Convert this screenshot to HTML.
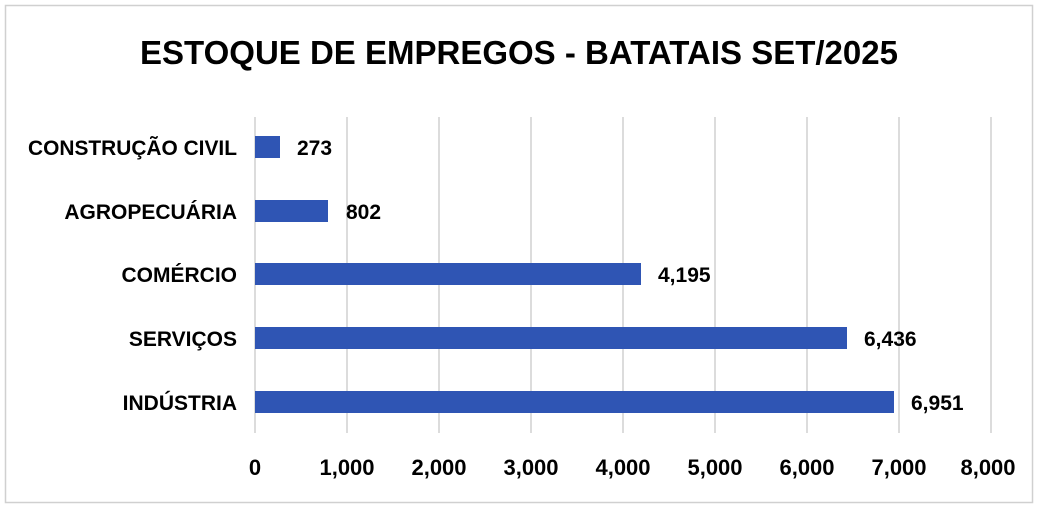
<!DOCTYPE html>
<html><head><style>
body{margin:0;width:1039px;height:508px;background:#fff;overflow:hidden;font-family:"Liberation Sans",sans-serif}
</style></head><body>
<svg width="1039" height="508" xmlns="http://www.w3.org/2000/svg" font-family="Liberation Sans, sans-serif" font-weight="bold">
<rect x="5.5" y="5.5" width="1027" height="497" fill="#fff" stroke="#d0d0d0" stroke-width="1.5"/>
<text x="519" y="64" text-anchor="middle" font-size="33" fill="#000">ESTOQUE DE EMPREGOS - BATATAIS SET/2025</text>
<g stroke="#d0d0d0" stroke-width="1.5">
<line x1="255" y1="117" x2="255" y2="433"/>
<line x1="347" y1="117" x2="347" y2="433"/>
<line x1="439" y1="117" x2="439" y2="433"/>
<line x1="531" y1="117" x2="531" y2="433"/>
<line x1="623" y1="117" x2="623" y2="433"/>
<line x1="715" y1="117" x2="715" y2="433"/>
<line x1="807" y1="117" x2="807" y2="433"/>
<line x1="899" y1="117" x2="899" y2="433"/>
<line x1="991" y1="117" x2="991" y2="433"/>
</g>
<g fill="#2F55B4">
<rect x="255" y="136" width="25" height="22"/>
<rect x="255" y="200" width="73" height="22"/>
<rect x="255" y="263" width="386" height="22"/>
<rect x="255" y="327" width="592" height="22"/>
<rect x="255" y="391" width="639" height="22"/>
</g>
<g font-size="21" fill="#000" text-anchor="end">
<text x="237" y="155" textLength="209" lengthAdjust="spacingAndGlyphs">CONSTRUÇÃO CIVIL</text>
<text x="237" y="219">AGROPECUÁRIA</text>
<text x="237" y="282">COMÉRCIO</text>
<text x="237" y="346">SERVIÇOS</text>
<text x="237" y="410">INDÚSTRIA</text>
</g>
<g font-size="21" fill="#000">
<text x="297" y="155">273</text>
<text x="346" y="219">802</text>
<text x="658" y="282">4,195</text>
<text x="864" y="346">6,436</text>
<text x="911" y="410">6,951</text>
</g>
<g font-size="22" fill="#000" text-anchor="middle">
<text x="255" y="475">0</text>
<text x="347" y="475">1,000</text>
<text x="439" y="475">2,000</text>
<text x="531" y="475">3,000</text>
<text x="623" y="475">4,000</text>
<text x="715" y="475">5,000</text>
<text x="807" y="475">6,000</text>
<text x="899" y="475">7,000</text>
<text x="988" y="475">8,000</text>
</g>
</svg>
</body></html>
